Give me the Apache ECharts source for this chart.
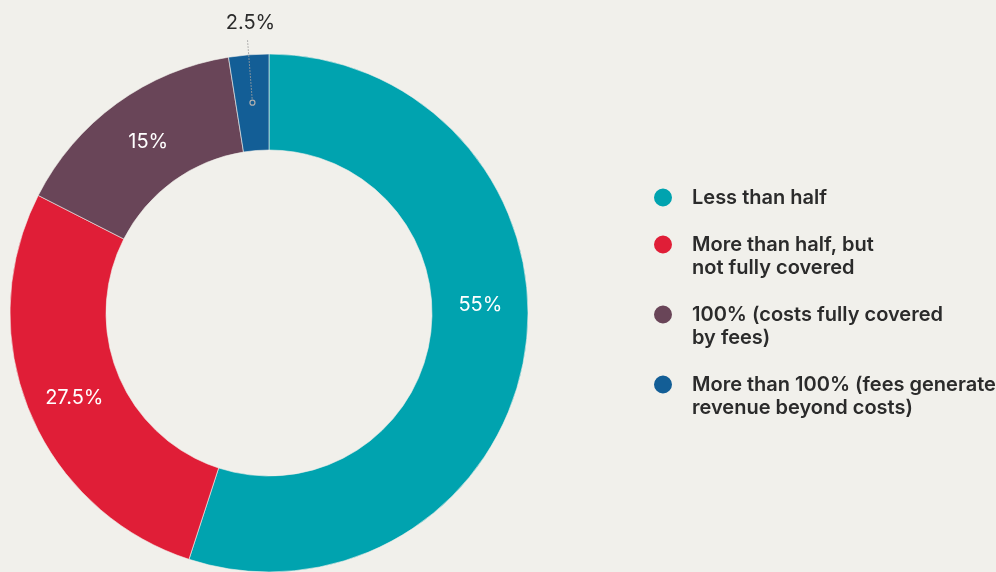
<!DOCTYPE html>
<html>
<head>
<meta charset="utf-8">
<script src="https://cdn.jsdelivr.net/npm/echarts@6/dist/echarts.min.js"></script>
<style>
html,body{margin:0;padding:0;background:#F1F0EB;}
#c{width:996px;height:572px;}
</style>
</head>
<body>
<div id="c"></div>
<script>
const categories = [
  'Less than half',
  'More than half, but\nnot fully covered',
  '100% (costs fully covered\nby fees)',
  'More than 100% (fees generate\nrevenue beyond costs)'
];
const values = [55, 27.5, 15, 2.5];
const valueLabels = ['55%', '27.5%', '15%', '2.5%'];
const colors = ['#00A3AF', '#E01E37', '#694558', '#135E96'];

const cx = 269, cy = 313, rIn = 163, rOut = 259, rMid = (rIn + rOut) / 2;
const total = values.reduce((a, b) => a + b, 0);
const before = values.slice(0, 3).reduce((a, b) => a + b, 0);
const midAng = (before + values[3] / 2) / total * 2 * Math.PI;
function pt(r) { return [cx + r * Math.sin(midAng), cy - r * Math.cos(midAng)]; }
const dotP = pt(rMid);
const lineStart = pt(rMid + 4);
const lineEnd = pt(rOut + 15);

const chart = echarts.init(document.getElementById('c'));
const FONT = 'Inter, "Noto Sans", sans-serif';
chart.setOption({
  backgroundColor: '#F1F0EB',
  animation: false,
  color: colors,
  legend: {
    orient: 'vertical',
    left: 647,
    top: 181,
    icon: 'circle',
    itemWidth: 48,
    itemHeight: 20,
    itemGap: 1,
    textStyle: { fontFamily: FONT, fontSize: 20, fontWeight: 600, color: '#2b2b2b', lineHeight: 23 },
    formatter: name => name.indexOf('\n') >= 0 ? '\u00a0\n' + name : name,
    data: categories
  },
  series: [{
    type: 'pie',
    center: [cx, cy],
    radius: [rIn, rOut],
    startAngle: 90,
    clockwise: true,
    avoidLabelOverlap: false,
    itemStyle: { borderColor: '#F1F0EB', borderWidth: 0.6 },
    label: {
      show: true,
      position: 'inside',
      color: '#ffffff',
      fontFamily: FONT,
      fontSize: 20,
      formatter: p => valueLabels[p.dataIndex]
    },
    labelLine: { show: false },
    emphasis: { disabled: true },
    labelLayout: function (p) {
      if (p.dataIndex === 0) return { dy: -41 };
      if (p.dataIndex === 1) return { dx: 3, dy: 3 };
      if (p.dataIndex === 2) return { dx: 5, dy: 2 };
      if (p.dataIndex === 3) {
        return {
          x: lineEnd[0] + 3, y: lineEnd[1] - 7,
          align: 'center', verticalAlign: 'bottom'
        };
      }
      return {};
    },
    data: categories.map((c, i) => {
      const d = { name: c, value: values[i] };
      if (i === 3) {
        d.label = { position: 'outside', color: '#2b2b2b' };
        d.labelLine = { show: false };
      }
      return d;
    })
  }],
  graphic: [{
    type: 'polyline',
    shape: { points: [lineStart, lineEnd] },
    style: { stroke: '#a0a0a0', lineWidth: 1, lineDash: [1.5, 1.5], fill: null },
    z: 100
  }, {
    type: 'circle',
    shape: { cx: dotP[0], cy: dotP[1], r: 2.5 },
    style: { fill: 'none', stroke: '#b0b0b0', lineWidth: 1.2 },
    z: 100
  }]
});
</script>
</body>
</html>
